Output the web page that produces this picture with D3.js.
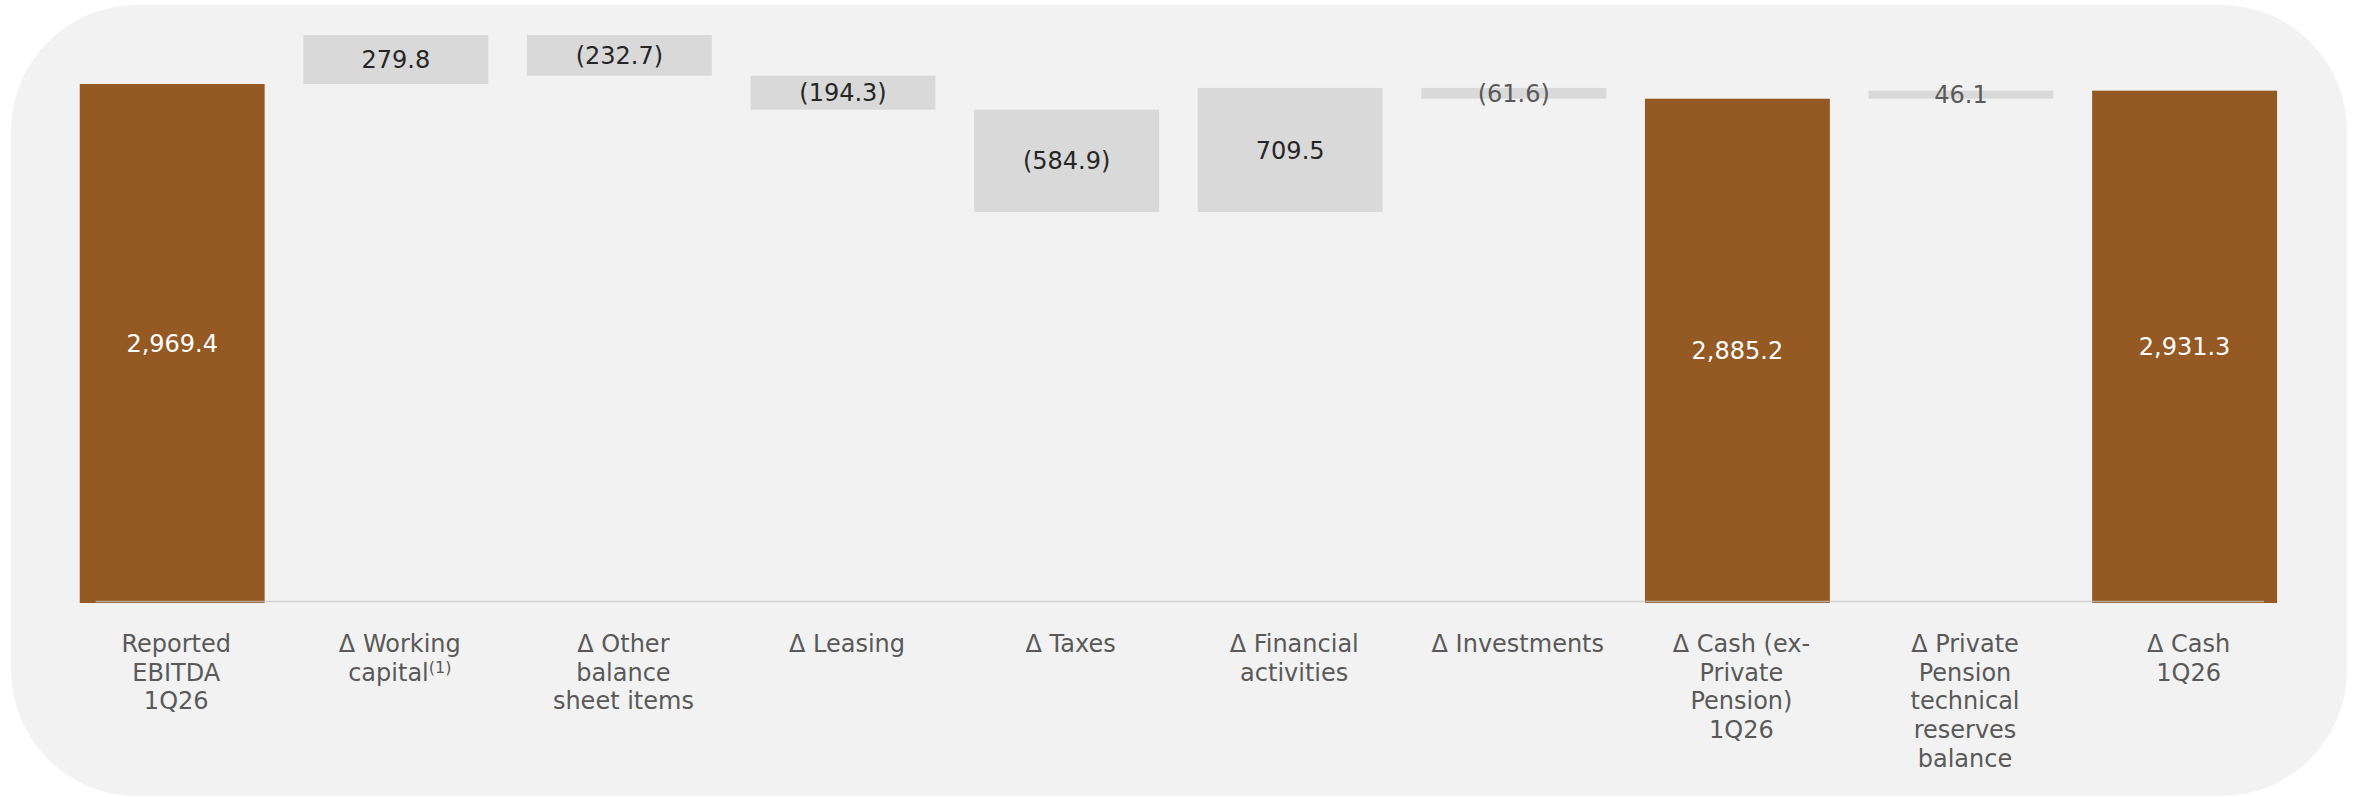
<!DOCTYPE html>
<html>
<head>
<meta charset="utf-8">
<script src="https://cdn.jsdelivr.net/npm/d3@7"></script>
<style>
  html, body { margin: 0; padding: 0; background: #ffffff; }
  svg { display: block; }
  text { font-family: "DejaVu Sans", Verdana, sans-serif; }
</style>
</head>
<body>
<svg id="chart" width="2357" height="797"></svg>
<script>
// Cash flow bridge, 1Q26 (R$ million)
const categories = [
  ["Reported", "EBITDA", "1Q26"],
  ["Δ Working", "capital"],
  ["Δ Other", "balance", "sheet items"],
  ["Δ Leasing"],
  ["Δ Taxes"],
  ["Δ Financial", "activities"],
  ["Δ Investments"],
  ["Δ Cash (ex-", "Private", "Pension)", "1Q26"],
  ["Δ Private", "Pension", "technical", "reserves", "balance"],
  ["Δ Cash", "1Q26"]
];
const footnotes = ["", "(1)", "", "", "", "", "", "", "", ""];
const values = [2969.4, 279.8, -232.7, -194.3, -584.9, 709.5, -61.6, 2885.2, 46.1, 2931.3];
const isTotal = [true, false, false, false, false, false, false, true, false, true];

const svg = d3.select("#chart");

// rounded panel behind the chart
svg.append("rect")
  .attr("x", 11).attr("y", 5)
  .attr("width", 2336).attr("height", 791)
  .attr("rx", 126).attr("ry", 126)
  .attr("fill", "#f2f2f2");

// waterfall steps
let running = 0;
const steps = values.map((v, i) => {
  let start, end;
  if (isTotal[i]) { start = 0; end = v; running = v; }
  else { start = running; end = running + v; running = end; }
  return { i, v, start, end, total: isTotal[i] };
});

const x = d3.scaleBand()
  .domain(d3.range(values.length))
  .range([60.4, 2296.4])
  .paddingInner(0.173)
  .paddingOuter(0.0865);

const y = d3.scaleLinear().domain([0, 3450]).range([603, 0]);

const fmt = d3.format(",.1f");
const label = d => d.total ? fmt(d.v) : (d.v < 0 ? "(" + fmt(-d.v) + ")" : fmt(d.v));

const bars = svg.append("g");
bars.selectAll("rect")
  .data(steps)
  .join("rect")
  .attr("x", d => x(d.i))
  .attr("width", x.bandwidth())
  .attr("y", d => y(Math.max(d.start, d.end)))
  .attr("height", d => Math.abs(y(d.start) - y(d.end)))
  .attr("fill", d => d.total ? "#955923" : "#d9d9d9");

// baseline
svg.append("line")
  .attr("x1", x(0) + 16).attr("x2", x(values.length - 1) + x.bandwidth() - 13)
  .attr("y1", 601.5).attr("y2", 601.5)
  .attr("stroke", "#c8c8c8").attr("stroke-opacity", 0.75)
  .attr("stroke-width", 1.5);

// value labels, centred in each bar
svg.append("g").selectAll("text")
  .data(steps)
  .join("text")
  .attr("x", d => x(d.i) + x.bandwidth() / 2)
  .attr("y", d => (y(d.start) + y(d.end)) / 2)
  .attr("dy", "0.36em")
  .attr("text-anchor", "middle")
  .attr("font-size", 24)
  .attr("fill", d => d.total ? "#ffffff" : (Math.abs(y(d.start) - y(d.end)) < 20 ? "#595959" : "#262626"))
  .text(label);

// category labels
const cat = svg.append("g").selectAll("text")
  .data(categories)
  .join("text")
  .attr("text-anchor", "middle")
  .attr("font-size", 24)
  .attr("fill", "#595959")
  .attr("transform", (d, i) => `translate(${x(i) + x.bandwidth() / 2 + 4},652)`);

cat.each(function (lines, i) {
  const t = d3.select(this);
  lines.forEach((ln, k) => {
    t.append("tspan").attr("x", 0).attr("y", k * 28.7).text(ln);
    if (k === lines.length - 1 && footnotes[i]) {
      t.append("tspan")
        .attr("font-size", 16)
        .attr("dy", -8)
        .text(footnotes[i]);
    }
  });
});
</script>
</body>
</html>
